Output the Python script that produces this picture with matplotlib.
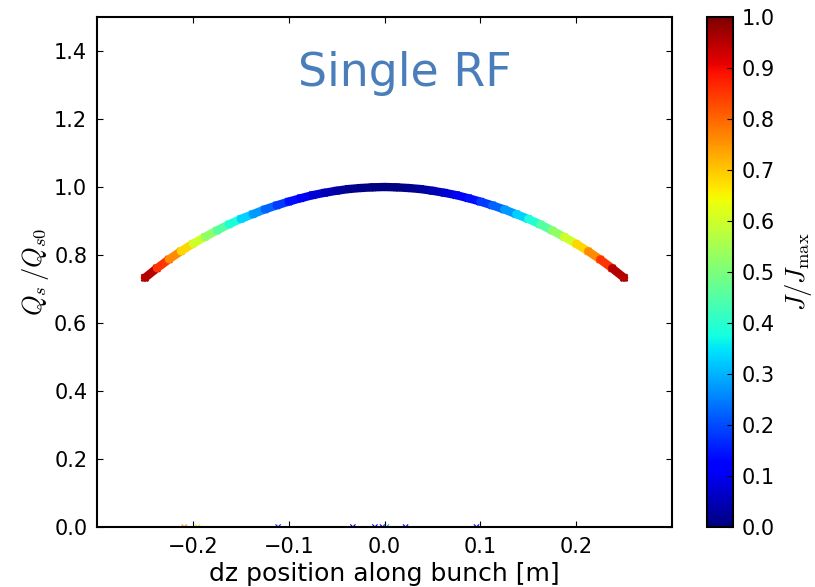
import numpy as np
import matplotlib
matplotlib.use("Agg")
import matplotlib.pyplot as plt
from matplotlib.collections import LineCollection

# curve
dz = [-0.25, -0.2375, -0.225, -0.2125, -0.2, -0.1875, -0.175, -0.1625, -0.15, -0.1375,
      -0.125, -0.1125, -0.1, -0.0875, -0.075, -0.0625, -0.05, -0.0375, -0.025, -0.0125,
      0.0,
      0.0125, 0.025, 0.0375, 0.05, 0.0625, 0.075, 0.0875, 0.1, 0.1125, 0.125,
      0.1375, 0.15, 0.1625, 0.175, 0.1875, 0.2, 0.2125, 0.225, 0.2375, 0.25]
qs_ratio = [0.733, 0.761, 0.787, 0.811, 0.833, 0.853, 0.872, 0.890, 0.906, 0.920,
            0.934, 0.946, 0.957, 0.967, 0.976, 0.983, 0.989, 0.994, 0.997, 0.999,
            1.000,
            0.999, 0.997, 0.994, 0.989, 0.983, 0.976, 0.967, 0.957, 0.946, 0.934,
            0.920, 0.906, 0.890, 0.872, 0.853, 0.833, 0.811, 0.787, 0.761, 0.733]
j_ratio = [1.0, 0.90, 0.81, 0.72, 0.64, 0.56, 0.49, 0.42, 0.36, 0.30,
           0.25, 0.20, 0.16, 0.12, 0.09, 0.06, 0.04, 0.02, 0.01, 0.003,
           0.0,
           0.003, 0.01, 0.02, 0.04, 0.06, 0.09, 0.12, 0.16, 0.20, 0.25,
           0.30, 0.36, 0.42, 0.49, 0.56, 0.64, 0.72, 0.81, 0.90, 1.0]

# stray particles sitting on Qs = 0
dz_zero = [-0.209, -0.195, -0.111, -0.033, -0.010, -0.002, 0.002, 0.022, 0.096]
j_zero = [0.75, 0.62, 0.15, 0.12, 0.12, 0.12, 0.3, 0.12, 0.12]
qs_zero = [0.0] * len(dz_zero)

plt.rcParams['mathtext.fontset'] = 'cm'

fig = plt.figure(figsize=(8.15, 5.87), dpi=100)
ax = fig.add_axes([97/815, 60/587, 575/815, 510/587])
cax = fig.add_axes([707/815, 60/587, 26/815, 510/587])

cmap = plt.get_cmap('jet')
norm = plt.Normalize(0, 1)

pts = np.column_stack([dz, qs_ratio])
segs = np.stack([pts[:-1], pts[1:]], axis=1)
seg_j = (np.array(j_ratio[:-1]) + np.array(j_ratio[1:])) / 2
lc = LineCollection(segs, cmap=cmap, norm=norm, linewidth=6, capstyle='round')
lc.set_array(seg_j)
ax.add_collection(lc)

sc = ax.scatter(dz, qs_ratio, c=j_ratio, cmap=cmap, norm=norm, marker='x',
                s=25, linewidths=1.5)
ax.scatter(dz_zero, qs_zero, c=j_zero, cmap=cmap, norm=norm, marker='x',
           s=14, linewidths=0.8)

ax.set_xlim(-0.3, 0.3)
ax.set_ylim(0, 1.5)
ax.set_xticks([-0.2, -0.1, 0.0, 0.1, 0.2])
ax.set_yticks(np.arange(0, 1.41, 0.2))
ax.tick_params(direction='in', top=True, right=True, length=4, labelsize=15, pad=7)
for s in ax.spines.values():
    s.set_linewidth(1.5)

ax.set_xlabel('dz position along bunch [m]', fontsize=18, labelpad=4)
ax.set_ylabel(r'$Q_s\,/Q_{s0}$', fontsize=19, labelpad=2)
ax.text(0.535, 0.89, 'Single RF', transform=ax.transAxes, ha='center', va='center',
        fontsize=33, color='#4a7ebb')

cb = fig.colorbar(sc, cax=cax)
cb.set_ticks(np.arange(0, 1.01, 0.1))
cb.ax.tick_params(labelsize=15, direction='in', length=4, pad=6)
cb.outline.set_linewidth(1.5)
cb.set_label(r'$J/J_\mathrm{max}$', fontsize=19, labelpad=6)

fig.savefig('out.png', dpi=100)
